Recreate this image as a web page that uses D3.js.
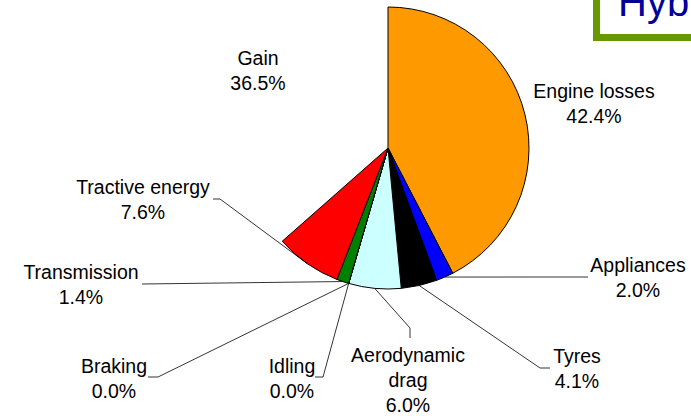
<!DOCTYPE html>
<html>
<head>
<meta charset="utf-8">
<script src="https://cdn.jsdelivr.net/npm/d3@7"></script>
<style>
  html, body { margin: 0; padding: 0; background: #fff; overflow: hidden; }
  text { font-family: "Liberation Sans", Arial, Helvetica, sans-serif; fill: #000; }
</style>
</head>
<body>
<svg id="chart" width="691" height="416"></svg>
<script>
// energy split, clockwise from 12 o'clock
var categories = ["Engine losses", "Appliances", "Tyres", "Aerodynamic drag", "Idling", "Braking", "Transmission", "Tractive energy", "Gain"];
var shares = [42.4, 2.0, 4.1, 6.0, 0.0, 0.0, 1.4, 7.6, 36.5];
var colours = ["#FF9900", "#0000FF", "#000000", "#CCFFFF", "#000000", "#000000", "#008000", "#FF0000", "none"];

// how each category label is broken over lines
var labelLines = [
  ["Engine losses"],
  ["Appliances"],
  ["Tyres"],
  ["Aerodynamic", "drag"],
  ["Idling"],
  ["Braking"],
  ["Transmission"],
  ["Tractive energy"],
  ["Gain"]
];
// label centre / first baseline, leader bend and tick end
var layout = [
  {x: 594, y: 98},
  {x: 638, y: 272, bend: [588, 277]},
  {x: 577, y: 363, bend: [540, 368], tick: [550, 368]},
  {x: 408, y: 362, bend: [410, 328], tick: [410, 338]},
  {x: 292, y: 373, bend: [323, 377], tick: [315, 377]},
  {x: 114, y: 373, bend: [158, 377], tick: [148, 377]},
  {x: 81,  y: 279, bend: [142, 284]},
  {x: 143, y: 194, bend: [220, 199], tick: [213, 199]},
  {x: 258, y: 65}
];

var cx = 388, cy = 148, r = 141;
var svg = d3.select("#chart");

// title box, cut by the right/top edges
svg.append("rect")
  .attr("x", 596.5).attr("y", -20).attr("width", 140).attr("height", 57.5)
  .attr("fill", "#fff").attr("stroke", "#669900").attr("stroke-width", 7);
svg.append("text")
  .attr("x", 618).attr("y", 16)
  .style("font-size", "40px").style("fill", "#000099")
  .text("Hyb");

var pie = d3.pie().sort(null).value(function (d) { return d; });
var arcs = pie(shares);
var arc = d3.arc().innerRadius(0).outerRadius(r);

var g = svg.append("g").attr("transform", "translate(" + cx + "," + cy + ")");

g.selectAll("path.slice")
  .data(arcs)
  .enter().append("path")
  .attr("class", "slice")
  .attr("d", arc)
  .attr("fill", function (d, i) { return colours[i]; })
  .attr("stroke", function (d, i) { return colours[i] === "none" ? "none" : "#000"; })
  .attr("stroke-width", 1)
  .attr("stroke-linejoin", "round");

// leader lines from mid-arc
arcs.forEach(function (d, i) {
  var L = layout[i];
  if (!L.bend) return;
  var a = (d.startAngle + d.endAngle) / 2;
  var px = cx + r * Math.sin(a), py = cy - r * Math.cos(a);
  var pts = [[px, py], L.bend];
  if (L.tick) pts.push(L.tick);
  svg.append("path")
    .attr("d", d3.line()(pts))
    .attr("fill", "none")
    .attr("stroke", "#000")
    .attr("stroke-width", 0.8);
});

// labels
arcs.forEach(function (d, i) {
  var L = layout[i];
  var lines = labelLines[i].concat([shares[i].toFixed(1) + "%"]);
  var t = svg.append("text")
    .attr("text-anchor", "middle")
    .style("font-size", "19.5px");
  lines.forEach(function (s, k) {
    t.append("tspan").attr("x", L.x).attr("y", L.y + k * 25).text(s);
  });
});
</script>
</body>
</html>
